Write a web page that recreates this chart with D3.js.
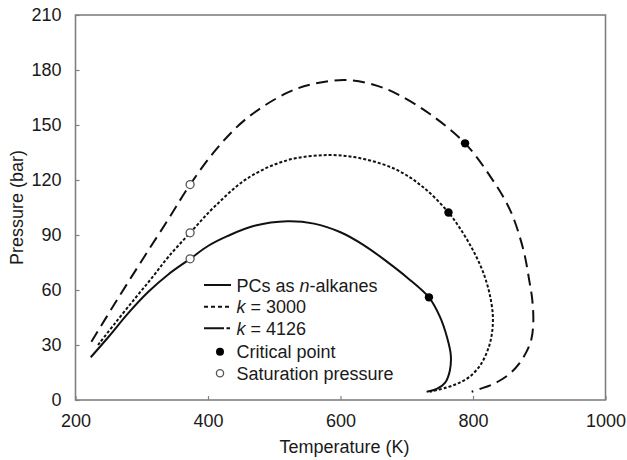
<!DOCTYPE html>
<html>
<head>
<meta charset="utf-8">
<script src="https://cdn.jsdelivr.net/npm/d3@7"></script>
<style>
  html, body { margin: 0; padding: 0; background: #fff; }
  svg { display: block; font-family: "Liberation Sans", Arial, Helvetica, sans-serif; }
</style>
</head>
<body>
<svg id="chart" width="627" height="460"></svg>
<script>
// ---- data (temperature K, pressure bar) ----
const xTicks = [200, 400, 600, 800, 1000];
const yTicks = [0, 30, 60, 90, 120, 150, 180, 210];

const seriesNames = ["PCs as n-alkanes", "k = 3000", "k = 4126"];

const alkanes = [
  [223, 23.3], [250, 34.5], [280, 47.5], [310, 59], [340, 68.5], [373, 77],
  [400, 84], [430, 89.5], [470, 95], [520, 97.5], [560, 96.2], [600, 91.5],
  [635, 84.5], [670, 75.5], [700, 67], [733.5, 56], [750, 45.5], [761, 34],
  [766.5, 24.5], [765, 16], [758, 9.5], [746, 6.2], [730, 4.5]
];

const k3000 = [
  [234, 30], [260, 42], [290, 55.5], [315, 66.5], [340, 78], [373, 91.2],
  [410, 105.5], [460, 121], [520, 130.8], [583, 133.6], [635, 131.5],
  [685, 125.5], [725, 116], [763, 102.3], [785, 91], [801, 81], [815, 70],
  [825, 58], [830, 45.5], [828, 35], [822, 27], [811, 19], [796, 13],
  [780, 9.5], [760, 6.8], [735, 4.5]
];

const k4126 = [
  [224, 31.8], [260, 53], [300, 76], [340, 98.5], [373, 117.5], [413, 137],
  [458, 153.5], [519, 167.5], [560, 172.5], [607, 174.5], [650, 172],
  [685, 167], [735, 156], [788, 140], [826, 122], [856, 103.6], [876, 82],
  [885, 65], [889.5, 54.5], [891, 42], [888, 33], [881, 26.5], [870, 20],
  [856, 14.5], [840, 10.5], [826, 8], [810, 6], [798, 4.5]
];

const criticalPoints = [[733.5, 56], [763, 102.3], [788, 140]];
const saturationPoints = [[373, 77], [373, 91.2], [373, 117.5]];

// ---- layout ----
const svg = d3.select("#chart");
const margin = { left: 75.5, right: 21.5, top: 15, bottom: 60 };
const W = 627, H = 460;
const x = d3.scaleLinear().domain([200, 1000]).range([margin.left, W - margin.right]);
const y = d3.scaleLinear().domain([0, 210]).range([H - margin.bottom, margin.top]);

const frameColor = "#808080";
const textColor = "#1a1a1a";

// axes
const xAxis = svg.append("g")
  .attr("transform", `translate(0,${y(0)})`)
  .call(d3.axisBottom(x).tickValues(xTicks).tickFormat(d3.format("d"))
    .tickSizeInner(-4).tickSizeOuter(0).tickPadding(14));
const yAxis = svg.append("g")
  .attr("transform", `translate(${x(200)},0)`)
  .call(d3.axisLeft(y).tickValues(yTicks).tickFormat(d3.format("d"))
    .tickSizeInner(-4).tickSizeOuter(0).tickPadding(14));

[xAxis, yAxis].forEach(g => {
  g.select(".domain").remove();
  g.selectAll(".tick line").attr("stroke", frameColor).attr("stroke-width", 1.2);
  g.selectAll(".tick text").attr("fill", textColor).style("font-size", "18px")
    .style("font-family", '"Liberation Sans", Arial, Helvetica, sans-serif');
});

// frame
svg.append("rect")
  .attr("x", x(200)).attr("y", y(210))
  .attr("width", x(1000) - x(200)).attr("height", y(0) - y(210))
  .attr("fill", "none").attr("stroke", frameColor).attr("stroke-width", 1.6);

// axis titles
svg.append("text")
  .attr("x", (x(200) + x(1000)) / 2 + 4).attr("y", 453)
  .attr("text-anchor", "middle").attr("fill", textColor)
  .style("font-size", "18px").text("Temperature (K)");
svg.append("text")
  .attr("transform", `translate(22.5,${(y(0) + y(210)) / 2}) rotate(-90)`)
  .attr("text-anchor", "middle").attr("fill", textColor)
  .style("font-size", "18px").text("Pressure (bar)");

// curves
const line = d3.line()
  .x(d => x(d[0])).y(d => y(d[1]))
  .curve(d3.curveCatmullRom.alpha(0.5));

const styles = [
  { data: alkanes, dash: null },
  { data: k3000, dash: "3,2" },
  { data: k4126, dash: "12,6.5" }
];
styles.forEach(s => {
  svg.append("path")
    .attr("d", line(s.data))
    .attr("fill", "none").attr("stroke", "#111")
    .attr("stroke-width", 2)
    .attr("stroke-dasharray", s.dash);
});

// markers
svg.selectAll(".crit").data(criticalPoints).enter().append("circle")
  .attr("cx", d => x(d[0])).attr("cy", d => y(d[1])).attr("r", 4.2)
  .attr("fill", "#000");
svg.selectAll(".sat").data(saturationPoints).enter().append("circle")
  .attr("cx", d => x(d[0])).attr("cy", d => y(d[1])).attr("r", 4)
  .attr("fill", "#fff").attr("stroke", "#555").attr("stroke-width", 1.3);

// legend
const lg = svg.append("g");
const lx0 = 204, lx1 = 231, tx = 236.5;
const rows = [285, 306.7, 328.3, 351.7, 373.3];
const legendDash = [null, "4,3", "20,2.5,3.5,10"];
[0, 1, 2].forEach(i => {
  lg.append("line")
    .attr("x1", lx0).attr("x2", lx1).attr("y1", rows[i]).attr("y2", rows[i])
    .attr("stroke", "#111").attr("stroke-width", 2)
    .attr("stroke-dasharray", legendDash[i]);
});
const mk = (row) => lg.append("text").attr("x", tx).attr("y", row + 6.5)
  .attr("fill", textColor).style("font-size", "18px");
const t0 = mk(rows[0]);
t0.append("tspan").text("PCs as ");
t0.append("tspan").style("font-style", "italic").text("n");
t0.append("tspan").text("-alkanes");
const t1 = mk(rows[1]);
t1.append("tspan").style("font-style", "italic").text("k");
t1.append("tspan").text(" = 3000");
const t2 = mk(rows[2]);
t2.append("tspan").style("font-style", "italic").text("k");
t2.append("tspan").text(" = 4126");
lg.append("circle").attr("cx", 220).attr("cy", rows[3]).attr("r", 4).attr("fill", "#000");
mk(rows[3]).text("Critical point");
lg.append("circle").attr("cx", 220).attr("cy", rows[4]).attr("r", 3.6)
  .attr("fill", "#fff").attr("stroke", "#555").attr("stroke-width", 1.3);
mk(rows[4]).text("Saturation pressure");
</script>
</body>
</html>
